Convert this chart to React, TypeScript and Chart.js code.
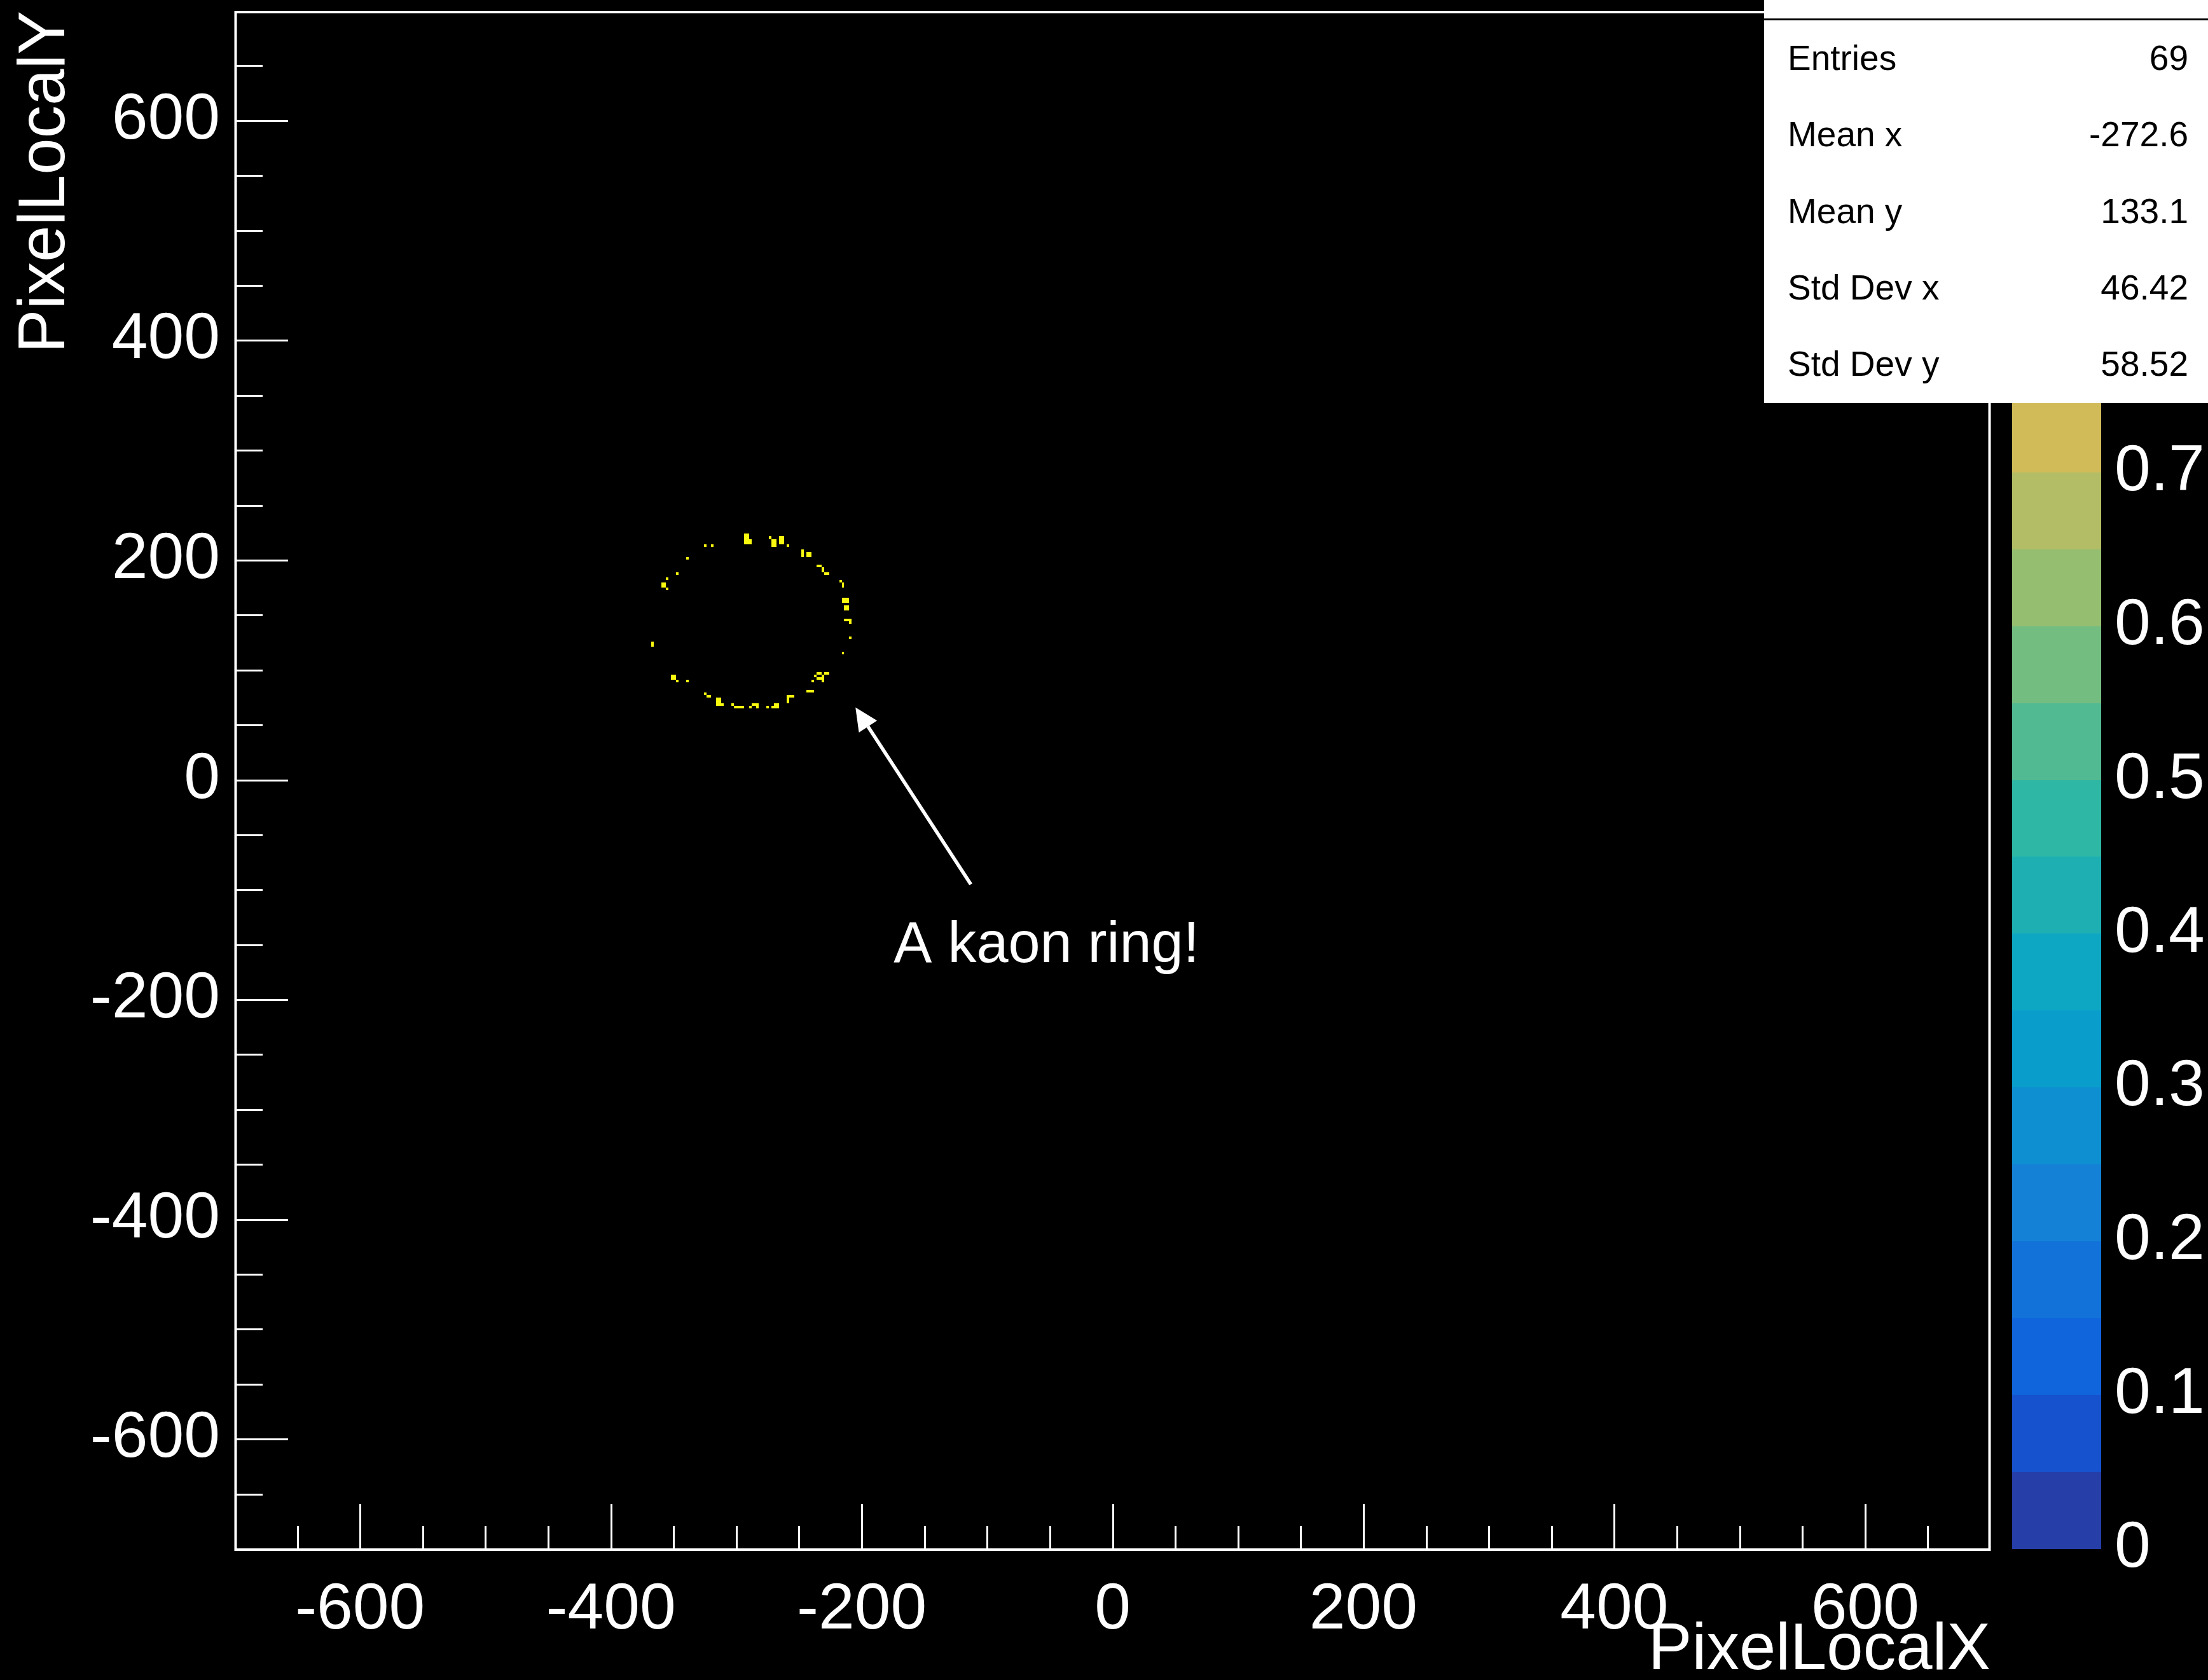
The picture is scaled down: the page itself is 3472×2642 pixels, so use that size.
import { useEffect, useRef } from 'react';
import { Chart, registerables } from 'chart.js';

Chart.register(...registerables);

// ---- canvas / frame geometry ----
const W = 3472;
const H = 2642;
const FONT = "'Liberation Sans', Arial, Helvetica, sans-serif";

// ---- histogram definition ----
const X_MIN = -700;
const X_MAX = 700;
const Y_MIN = -700;
const Y_MAX = 700;
const X_BINS = 700;
const Y_BINS = 600;
const TICK_STEP = 50;
const LABEL_STEP = 200;

// colour axis
const Z_MIN = 0;
const Z_MAX = 1;
const Z_STEP = 0.1;

// 20 contour colours of the bird palette, low -> high
const birdContours = [
  '#263ea8', '#1652cd', '#1064dc', '#1272d9', '#1481d6',
  '#0e8fd1', '#099dcc', '#0da7c3', '#1eafb3', '#2eb7a4',
  '#52ba92', '#74bd81', '#95be71', '#b3bd65', '#d1bb59',
  '#e2c04b', '#f4c63b', '#fdd22b', '#fbe61d', '#f9f90f',
];

// statistics box
const statLabels = ['Entries', 'Mean x', 'Mean y', 'Std Dev x', 'Std Dev y'];
const statValues = ['69', '-272.6', '133.1', '46.42', '58.52'];

// annotation (data coordinates)
const arrowTail = [-113, -95];
const arrowTip = [-205, 66];
const noteAnchor = [-174.5, -166];
const noteText = 'A kaon ring!';

// hit pixels (PixelLocalX, PixelLocalY), one hit each
const ringHits: [number, number][] = [
  // upper arc
  [-325, 213.4], [-319, 213.4],
  [-293, 222.8], [-291, 222.8], [-293, 220.4], [-291, 220.4], [-293, 218.1], [-291, 218.1], [-289, 218.1],
  [-293, 215.8], [-291, 215.8], [-289, 215.8],
  [-273, 220.4],
  [-271, 218.2], [-269, 218.2], [-271, 215.9], [-269, 215.9], [-271, 213.6], [-269, 213.6],
  [-265, 220.4], [-263, 220.4], [-265, 218.2], [-263, 218.2], [-265, 215.9], [-263, 215.9],
  [-259, 213.6],
  [-247, 208.9], [-247, 206.6], [-247, 204.3],
  [-243, 206.6], [-241, 206.6], [-243, 204.3], [-241, 204.3],
  [-235, 195.0], [-233, 195.0],
  [-231, 192.7], [-231, 190.4],
  [-229, 188.1], [-227, 188.1],
  // right arc
  [-217, 181.4], [-215, 179.1], [-215, 176.8],
  [-215, 165.2], [-213, 165.2], [-211, 165.2], [-215, 162.9], [-213, 162.9], [-211, 162.9],
  [-213, 158.2], [-211, 158.2], [-213, 155.9], [-211, 155.9],
  [-213, 146.7], [-211, 146.7], [-209, 146.7], [-209, 144.4],
  [-209, 130.5],
  [-215, 116.2],
  // lower right
  [-235, 95.9], [-233, 95.9], [-229, 95.9], [-227, 95.9], [-237, 93.6], [-231, 93.6],
  [-235, 91.3], [-233, 91.3], [-231, 91.3], [-231, 89.0], [-239, 89.0],
  [-243, 79.5], [-241, 79.5], [-239, 79.5],
  [-259, 75.2], [-257, 75.2], [-255, 75.2], [-259, 72.9], [-259, 70.6],
  // lower arc
  [-269, 68.0], [-267, 68.0], [-271, 65.8], [-269, 65.8], [-267, 65.8],
  [-275, 65.8],
  [-287, 68.0], [-285, 68.0], [-283, 68.0], [-283, 65.8],
  [-289, 65.8],
  [-301, 65.8], [-299, 65.8], [-297, 65.8], [-295, 65.8],
  [-303, 68.0],
  [-315, 72.8], [-313, 72.8], [-315, 70.5], [-313, 70.5], [-315, 68.2], [-313, 68.2], [-311, 68.2],
  [-323, 75.2], [-321, 75.2],
  [-325, 77.4],
  // lower left
  [-339, 89.0], [-347, 89.0],
  [-351, 93.6], [-349, 93.6], [-351, 91.3], [-349, 91.3],
  // left arc
  [-367, 125.8], [-367, 123.5],
  [-355, 174.2], [-359, 178.8], [-357, 178.8], [-359, 176.5], [-357, 176.5], [-355, 183.4],
  [-347, 188.1], [-339, 202.0],
];

// ---- layout (pixels) ----
const Y_AXIS_WIDTH = 369;
const X_AXIS_HEIGHT = 206;
const Z_AXIS_WIDTH = 342;
const TOP_PAD = 17;
const X_MAJOR_LEN = 71;
const X_MINOR_LEN = 36;
const Y_MAJOR_LEN = 84;
const Y_MINOR_LEN = 44;
const CB_GAP = 34;
const CB_WIDTH = 140;
const STATS_BOX = { left: 2774, top: 0, right: W, bottom: 634, headerLine: 30.5 };
const STATS_TEXT = { labelX: 2811, valueX: 3441, firstBaseline: 110, rowStep: 120.3, size: 55 };

function contourColor(v: number) {
  const n = birdContours.length;
  const k = Math.min(n - 1, Math.max(0, Math.floor(((v - Z_MIN) / (Z_MAX - Z_MIN)) * n)));
  return birdContours[k];
}

// fixed axis box sizes, no extra room for overhanging labels
function fixBox(size: { width?: number; height?: number }) {
  return (s: any) => {
    if (size.width !== undefined) s.width = size.width;
    if (size.height !== undefined) s.height = size.height;
    s.paddingTop = 0;
    s.paddingBottom = 0;
    s.paddingLeft = 0;
    s.paddingRight = 0;
  };
}

const backgroundPlugin = {
  id: 'blackBackground',
  beforeDraw(chart: any) {
    const { ctx } = chart;
    ctx.save();
    ctx.fillStyle = '#000';
    ctx.fillRect(0, 0, chart.width, chart.height);
    ctx.restore();
  },
};

// fills the 2D histogram bins from the hit list
const histogramPlugin = {
  id: 'histogramBins',
  afterDatasetsDraw(chart: any) {
    const { ctx, scales } = chart;
    const xs = scales.x;
    const ys = scales.y;
    const bw = (X_MAX - X_MIN) / X_BINS;
    const bh = (Y_MAX - Y_MIN) / Y_BINS;
    const counts = new Map<string, { ix: number; iy: number; n: number }>();
    for (const [hx, hy] of ringHits) {
      const ix = Math.floor((hx - X_MIN) / bw);
      const iy = Math.floor((hy - Y_MIN) / bh);
      const key = ix + ':' + iy;
      const c = counts.get(key);
      if (c) c.n += 1;
      else counts.set(key, { ix, iy, n: 1 });
    }
    ctx.save();
    for (const { ix, iy, n } of counts.values()) {
      const x0 = Math.round(xs.getPixelForValue(X_MIN + ix * bw));
      const x1 = Math.round(xs.getPixelForValue(X_MIN + (ix + 1) * bw));
      const y0 = Math.round(ys.getPixelForValue(Y_MIN + (iy + 1) * bh));
      const y1 = Math.round(ys.getPixelForValue(Y_MIN + iy * bh));
      ctx.fillStyle = contourColor(n);
      ctx.fillRect(x0, y0, x1 - x0, y1 - y0);
    }
    ctx.restore();
  },
};

// frame, inward ticks, colour bar, annotation and statistics box
const decorPlugin = {
  id: 'decor',
  afterDraw(chart: any) {
    const { ctx, chartArea: a, scales } = chart;
    const xs = scales.x;
    const ys = scales.y;
    const zs = scales.z;
    ctx.save();

    // ticks
    ctx.strokeStyle = '#fff';
    ctx.lineWidth = 3;
    ctx.beginPath();
    for (const t of xs.ticks) {
      const v = t.value;
      if (v <= X_MIN || v >= X_MAX) continue;
      const px = Math.round(xs.getPixelForValue(v)) + 0.5;
      const len = v % LABEL_STEP === 0 ? X_MAJOR_LEN : X_MINOR_LEN;
      ctx.moveTo(px, a.bottom);
      ctx.lineTo(px, a.bottom - len);
    }
    for (const t of ys.ticks) {
      const v = t.value;
      if (v <= Y_MIN || v >= Y_MAX) continue;
      const py = Math.round(ys.getPixelForValue(v)) + 0.5;
      const len = v % LABEL_STEP === 0 ? Y_MAJOR_LEN : Y_MINOR_LEN;
      ctx.moveTo(a.left, py);
      ctx.lineTo(a.left + len, py);
    }
    ctx.stroke();

    // frame
    ctx.lineWidth = 4;
    ctx.strokeRect(a.left + 1.5, a.top + 2, a.right - a.left - 3, a.bottom - a.top - 1);

    // colour bar
    const cbLeft = a.right + CB_GAP;
    const nb = birdContours.length;
    for (let k = 0; k < nb; k++) {
      const lo = Z_MIN + ((Z_MAX - Z_MIN) * k) / nb;
      const hi = Z_MIN + ((Z_MAX - Z_MIN) * (k + 1)) / nb;
      const y0 = Math.round(zs.getPixelForValue(hi));
      const y1 = Math.round(zs.getPixelForValue(lo));
      ctx.fillStyle = birdContours[k];
      ctx.fillRect(cbLeft, y0, CB_WIDTH, y1 - y0);
    }

    // annotation arrow
    const fx = xs.getPixelForValue(arrowTail[0]);
    const fy = ys.getPixelForValue(arrowTail[1]);
    const tx = xs.getPixelForValue(arrowTip[0]);
    const ty = ys.getPixelForValue(arrowTip[1]);
    const ang = Math.atan2(ty - fy, tx - fx);
    const headLen = 36;
    const headHalf = 17;
    const bx = tx - headLen * Math.cos(ang);
    const by = ty - headLen * Math.sin(ang);
    ctx.strokeStyle = '#fff';
    ctx.fillStyle = '#fff';
    ctx.lineWidth = 5.5;
    ctx.beginPath();
    ctx.moveTo(fx, fy);
    ctx.lineTo(bx, by);
    ctx.stroke();
    ctx.beginPath();
    ctx.moveTo(tx, ty);
    ctx.lineTo(bx + headHalf * Math.sin(ang), by - headHalf * Math.cos(ang));
    ctx.lineTo(bx - headHalf * Math.sin(ang), by + headHalf * Math.cos(ang));
    ctx.closePath();
    ctx.fill();

    ctx.font = `90px ${FONT}`;
    ctx.textAlign = 'left';
    ctx.textBaseline = 'alphabetic';
    ctx.fillText(noteText, xs.getPixelForValue(noteAnchor[0]), ys.getPixelForValue(noteAnchor[1]));

    // statistics box
    const sb = STATS_BOX;
    ctx.fillStyle = '#fff';
    ctx.fillRect(sb.left, sb.top, sb.right - sb.left, sb.bottom - sb.top);
    ctx.strokeStyle = '#000';
    ctx.lineWidth = 3;
    ctx.beginPath();
    ctx.moveTo(sb.left, sb.headerLine);
    ctx.lineTo(sb.right, sb.headerLine);
    ctx.stroke();
    const st = STATS_TEXT;
    ctx.fillStyle = '#000';
    ctx.font = `${st.size}px ${FONT}`;
    statLabels.forEach((lab, i) => {
      const yb = st.firstBaseline + i * st.rowStep;
      ctx.textAlign = 'left';
      ctx.fillText(lab, st.labelX, yb);
      ctx.textAlign = 'right';
      ctx.fillText(statValues[i], st.valueX, yb);
    });

    ctx.restore();
  },
};

const axisLabel = (v: number | string) => {
  const n = Number(v);
  return n % LABEL_STEP === 0 ? String(n) : '';
};

export default function App() {
  const ref = useRef<HTMLCanvasElement>(null);

  useEffect(() => {
    const canvas = ref.current;
    if (!canvas) return;
    const tickFont = { family: FONT, size: 102 };
    const titleFont = { family: FONT, size: 103, lineHeight: 0.8 };

    const chart = new Chart(canvas, {
      type: 'scatter',
      data: {
        datasets: [
          {
            label: 'hits',
            data: ringHits.map(([x, y]) => ({ x, y })),
            pointRadius: 0,
            pointHoverRadius: 0,
            showLine: false,
          },
        ],
      },
      options: {
        responsive: false,
        animation: false,
        devicePixelRatio: 1,
        events: [],
        layout: { padding: { top: TOP_PAD, left: 0, right: 0, bottom: 0 } },
        plugins: {
          legend: { display: false },
          tooltip: { enabled: false },
        },
        scales: {
          x: {
            type: 'linear',
            position: 'bottom',
            min: X_MIN,
            max: X_MAX,
            afterFit: fixBox({ height: X_AXIS_HEIGHT }),
            grid: { display: false, drawTicks: false },
            border: { display: false },
            ticks: {
              stepSize: TICK_STEP,
              maxTicksLimit: 100,
              autoSkip: false,
              maxRotation: 0,
              minRotation: 0,
              padding: 36,
              color: '#fff',
              font: tickFont,
              callback: axisLabel,
            },
            title: {
              display: true,
              text: 'PixelLocalX',
              align: 'end',
              color: '#fff',
              font: titleFont,
              padding: { top: 0, bottom: 4 },
            },
          },
          y: {
            type: 'linear',
            position: 'left',
            min: Y_MIN,
            max: Y_MAX,
            afterFit: fixBox({ width: Y_AXIS_WIDTH }),
            grid: { display: false, drawTicks: false },
            border: { display: false },
            ticks: {
              stepSize: TICK_STEP,
              maxTicksLimit: 100,
              autoSkip: false,
              padding: 23,
              labelOffset: 0,
              color: '#fff',
              font: tickFont,
              callback: axisLabel,
            },
            title: {
              display: true,
              text: 'PixelLocalY',
              align: 'end',
              color: '#fff',
              font: titleFont,
              padding: { top: 31, bottom: 0 },
            },
          },
          z: {
            type: 'linear',
            position: 'right',
            min: Z_MIN,
            max: Z_MAX,
            afterFit: fixBox({ width: Z_AXIS_WIDTH }),
            grid: { display: false, drawTicks: false },
            border: { display: false },
            ticks: {
              stepSize: Z_STEP,
              autoSkip: false,
              padding: 195,
              labelOffset: 0,
              color: '#fff',
              font: tickFont,
              callback: (v: number | string) => String(Math.round(Number(v) * 10) / 10),
            },
          },
        },
      },
      plugins: [backgroundPlugin, histogramPlugin, decorPlugin],
    } as any);

    return () => chart.destroy();
  }, []);

  return (
    <div style={{ position: 'fixed', left: 0, top: 0, width: W, height: H, background: '#000' }}>
      <canvas ref={ref} width={W} height={H} style={{ display: 'block', width: W, height: H }} />
    </div>
  );
}
